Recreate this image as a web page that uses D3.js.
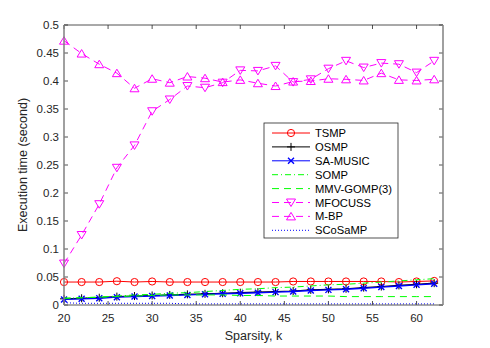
<!DOCTYPE html>
<html>
<head>
<meta charset="utf-8">
<script src="https://cdn.jsdelivr.net/npm/d3@7/dist/d3.min.js"></script>
<style>
  body { margin: 0; background: #fff; }
  svg { display: block; font-family: "Liberation Sans", Arial, Helvetica, sans-serif; }
</style>
</head>
<body>
<svg id="chart" width="490" height="348"></svg>
<script>
const sparsity = d3.range(20, 63, 2);

const tsmp    = [0.041, 0.041, 0.041, 0.0425, 0.041, 0.042, 0.041, 0.041, 0.041, 0.041, 0.041, 0.041, 0.041, 0.042, 0.042, 0.042, 0.042, 0.042, 0.042, 0.041, 0.042, 0.043];
const osmp    = [0.011, 0.012, 0.013, 0.015, 0.016, 0.017, 0.018, 0.019, 0.020, 0.021, 0.022, 0.023, 0.024, 0.025, 0.027, 0.028, 0.029, 0.031, 0.033, 0.035, 0.037, 0.039];
const saMusic = [0.010, 0.011, 0.012, 0.014, 0.015, 0.016, 0.017, 0.018, 0.019, 0.020, 0.021, 0.022, 0.023, 0.024, 0.026, 0.027, 0.028, 0.030, 0.032, 0.034, 0.036, 0.038];
const somp    = [0.012, 0.013, 0.014, 0.016, 0.018, 0.019, 0.021, 0.022, 0.024, 0.026, 0.028, 0.029, 0.031, 0.032, 0.034, 0.036, 0.037, 0.039, 0.041, 0.043, 0.045, 0.047];
const mmvGomp = [0.012, 0.013, 0.014, 0.015, 0.016, 0.017, 0.018, 0.018, 0.018, 0.018, 0.017, 0.017, 0.016, 0.016, 0.016, 0.016, 0.015, 0.015, 0.015, 0.015, 0.015, 0.015];
const mfocuss = [0.074, 0.125, 0.180, 0.245, 0.285, 0.346, 0.367, 0.391, 0.388, 0.397, 0.419, 0.418, 0.427, 0.398, 0.403, 0.422, 0.436, 0.424, 0.432, 0.430, 0.415, 0.436];
const mbp     = [0.472, 0.449, 0.430, 0.414, 0.387, 0.404, 0.397, 0.408, 0.405, 0.398, 0.402, 0.396, 0.391, 0.399, 0.400, 0.404, 0.403, 0.401, 0.414, 0.402, 0.401, 0.403];
const scosamp = [0.004, 0.003, 0.003, 0.003, 0.003, 0.003, 0.003, 0.002, 0.002, 0.002, 0.002, 0.002, 0.002, 0.002, 0.002, 0.002, 0.002, 0.002, 0.002, 0.002, 0.002, 0.002];

const xTicks = [20, 25, 30, 35, 40, 45, 50, 55, 60];
const yTicks = [0, 0.05, 0.1, 0.15, 0.2, 0.25, 0.3, 0.35, 0.4, 0.45, 0.5];

const series = [
  { name: "TSMP", values: tsmp, color: "#ff0000", dash: null, marker: "circle", width: 1 },
  { name: "OSMP", values: osmp, color: "#000000", dash: null, marker: "plus", width: 1.2 },
  { name: "SA-MUSIC", values: saMusic, color: "#0000ff", dash: null, marker: "x", width: 1.4 },
  { name: "SOMP", values: somp, color: "#00ff00", dash: "6,3,1,3", marker: null, width: 1 },
  { name: "MMV-GOMP(3)", values: mmvGomp, color: "#00ff00", dash: "7,5", marker: null, width: 1 },
  { name: "MFOCUSS", values: mfocuss, color: "#ff00ff", dash: "7,5", marker: "down", width: 1 },
  { name: "M-BP", values: mbp, color: "#ff00ff", dash: "7,5", marker: "up", width: 1 },
  { name: "SCoSaMP", values: scosamp, color: "#0000ff", dash: "1,2", marker: null, width: 1 }
];

const margin = { left: 64, right: 47, top: 25, bottom: 43 };
const W = 490, H = 348;
const svg = d3.select("#chart");

const x = d3.scaleLinear().domain([20, 63]).range([margin.left, W - margin.right]);
const y = d3.scaleLinear().domain([0, 0.5]).range([H - margin.bottom, margin.top]);

const txt = "#262626";
const tickLen = 4;

const x0 = x.range()[0], x1 = x.range()[1], y0 = y.range()[0], y1 = y.range()[1];

// ticks inside, all four sides
const tickG = svg.append("g").attr("stroke", txt).attr("stroke-width", 0.8);
xTicks.forEach(t => {
  tickG.append("line").attr("x1", x(t)).attr("x2", x(t)).attr("y1", y0).attr("y2", y0 - tickLen);
  tickG.append("line").attr("x1", x(t)).attr("x2", x(t)).attr("y1", y1).attr("y2", y1 + tickLen);
});
yTicks.forEach(t => {
  tickG.append("line").attr("x1", x0).attr("x2", x0 + tickLen).attr("y1", y(t)).attr("y2", y(t));
  tickG.append("line").attr("x1", x1).attr("x2", x1 - tickLen).attr("y1", y(t)).attr("y2", y(t));
});

// tick labels
svg.append("g").selectAll("text").data(xTicks).join("text")
  .attr("x", d => x(d)).attr("y", y0 + 17)
  .attr("text-anchor", "middle").attr("font-size", 11.5).attr("fill", txt)
  .text(d => d);
svg.append("g").selectAll("text").data(yTicks).join("text")
  .attr("x", x0 - 5).attr("y", d => y(d) + 4)
  .attr("text-anchor", "end").attr("font-size", 11.5).attr("fill", txt)
  .text(d => d3.format("~g")(d));

// axis titles
svg.append("text").attr("x", (x0 + x1) / 2).attr("y", y0 + 35)
  .attr("text-anchor", "middle").attr("font-size", 12.5).attr("fill", txt)
  .text("Sparsity, k");
svg.append("text").attr("transform", `translate(27,${(y0 + y1) / 2}) rotate(-90)`)
  .attr("text-anchor", "middle").attr("font-size", 12.5).attr("fill", txt)
  .text("Execution time (second)");

function drawMarker(g, type, cx, cy, color) {
  const s = 4;
  if (type === "circle") {
    g.append("circle").attr("cx", cx).attr("cy", cy).attr("r", 3.6)
      .attr("fill", "none").attr("stroke", color).attr("stroke-width", 1);
  } else if (type === "plus") {
    g.append("path").attr("d", `M${cx - s},${cy}H${cx + s}M${cx},${cy - s}V${cy + s}`)
      .attr("stroke", color).attr("stroke-width", 1).attr("fill", "none");
  } else if (type === "x") {
    const a = 3;
    g.append("path").attr("d", `M${cx - a},${cy - a}L${cx + a},${cy + a}M${cx - a},${cy + a}L${cx + a},${cy - a}`)
      .attr("stroke", color).attr("stroke-width", 1.4).attr("fill", "none");
  } else if (type === "down") {
    g.append("path").attr("d", `M${cx - 4.5},${cy - 3.5}L${cx + 4.5},${cy - 3.5}L${cx},${cy + 4}Z`)
      .attr("stroke", color).attr("stroke-width", 1).attr("fill", "none");
  } else if (type === "up") {
    g.append("path").attr("d", `M${cx - 4.5},${cy + 3.5}L${cx + 4.5},${cy + 3.5}L${cx},${cy - 4}Z`)
      .attr("stroke", color).attr("stroke-width", 1).attr("fill", "none");
  }
}

const line = d3.line().x((d, i) => x(sparsity[i])).y(d => y(d));
const plotG = svg.append("g");
series.forEach(s => {
  plotG.append("path").datum(s.values)
    .attr("d", line)
    .attr("fill", "none").attr("stroke", s.color).attr("stroke-width", s.width)
    .attr("stroke-dasharray", s.dash);
  if (s.marker) {
    const mg = plotG.append("g");
    s.values.forEach((v, i) => drawMarker(mg, s.marker, x(sparsity[i]), y(v), s.color));
  }
});

// box: left/right gray, top/bottom dark
svg.append("line").attr("x1", x0).attr("x2", x1).attr("y1", y1).attr("y2", y1).attr("stroke", txt).attr("stroke-width", 0.8);
svg.append("line").attr("x1", x0).attr("x2", x1).attr("y1", y0).attr("y2", y0).attr("stroke", "#555").attr("stroke-width", 1);
svg.append("line").attr("x1", x0).attr("x2", x0).attr("y1", y1).attr("y2", y0).attr("stroke", "#808080").attr("stroke-width", 1.5);
svg.append("line").attr("x1", x1).attr("x2", x1).attr("y1", y1).attr("y2", y0).attr("stroke", "#808080").attr("stroke-width", 1.5);

// legend
const lg = svg.append("g");
const lx = 264, ly = 123, lw = 134, lh = 115;
lg.append("rect").attr("x", lx).attr("y", ly).attr("width", lw).attr("height", lh)
  .attr("fill", "#fff").attr("stroke", txt).attr("stroke-width", 0.8);
series.forEach((s, i) => {
  const yy = ly + 10 + i * 13.9;
  lg.append("line").attr("x1", lx + 8).attr("x2", lx + 46).attr("y1", yy).attr("y2", yy)
    .attr("stroke", s.color).attr("stroke-width", 1).attr("stroke-dasharray", s.dash);
  if (s.marker) drawMarker(lg, s.marker, lx + 27, yy, s.color);
  lg.append("text").attr("x", lx + 51).attr("y", yy + 4)
    .attr("font-size", 11.2).attr("fill", "#000").text(s.name);
});
</script>
</body>
</html>
